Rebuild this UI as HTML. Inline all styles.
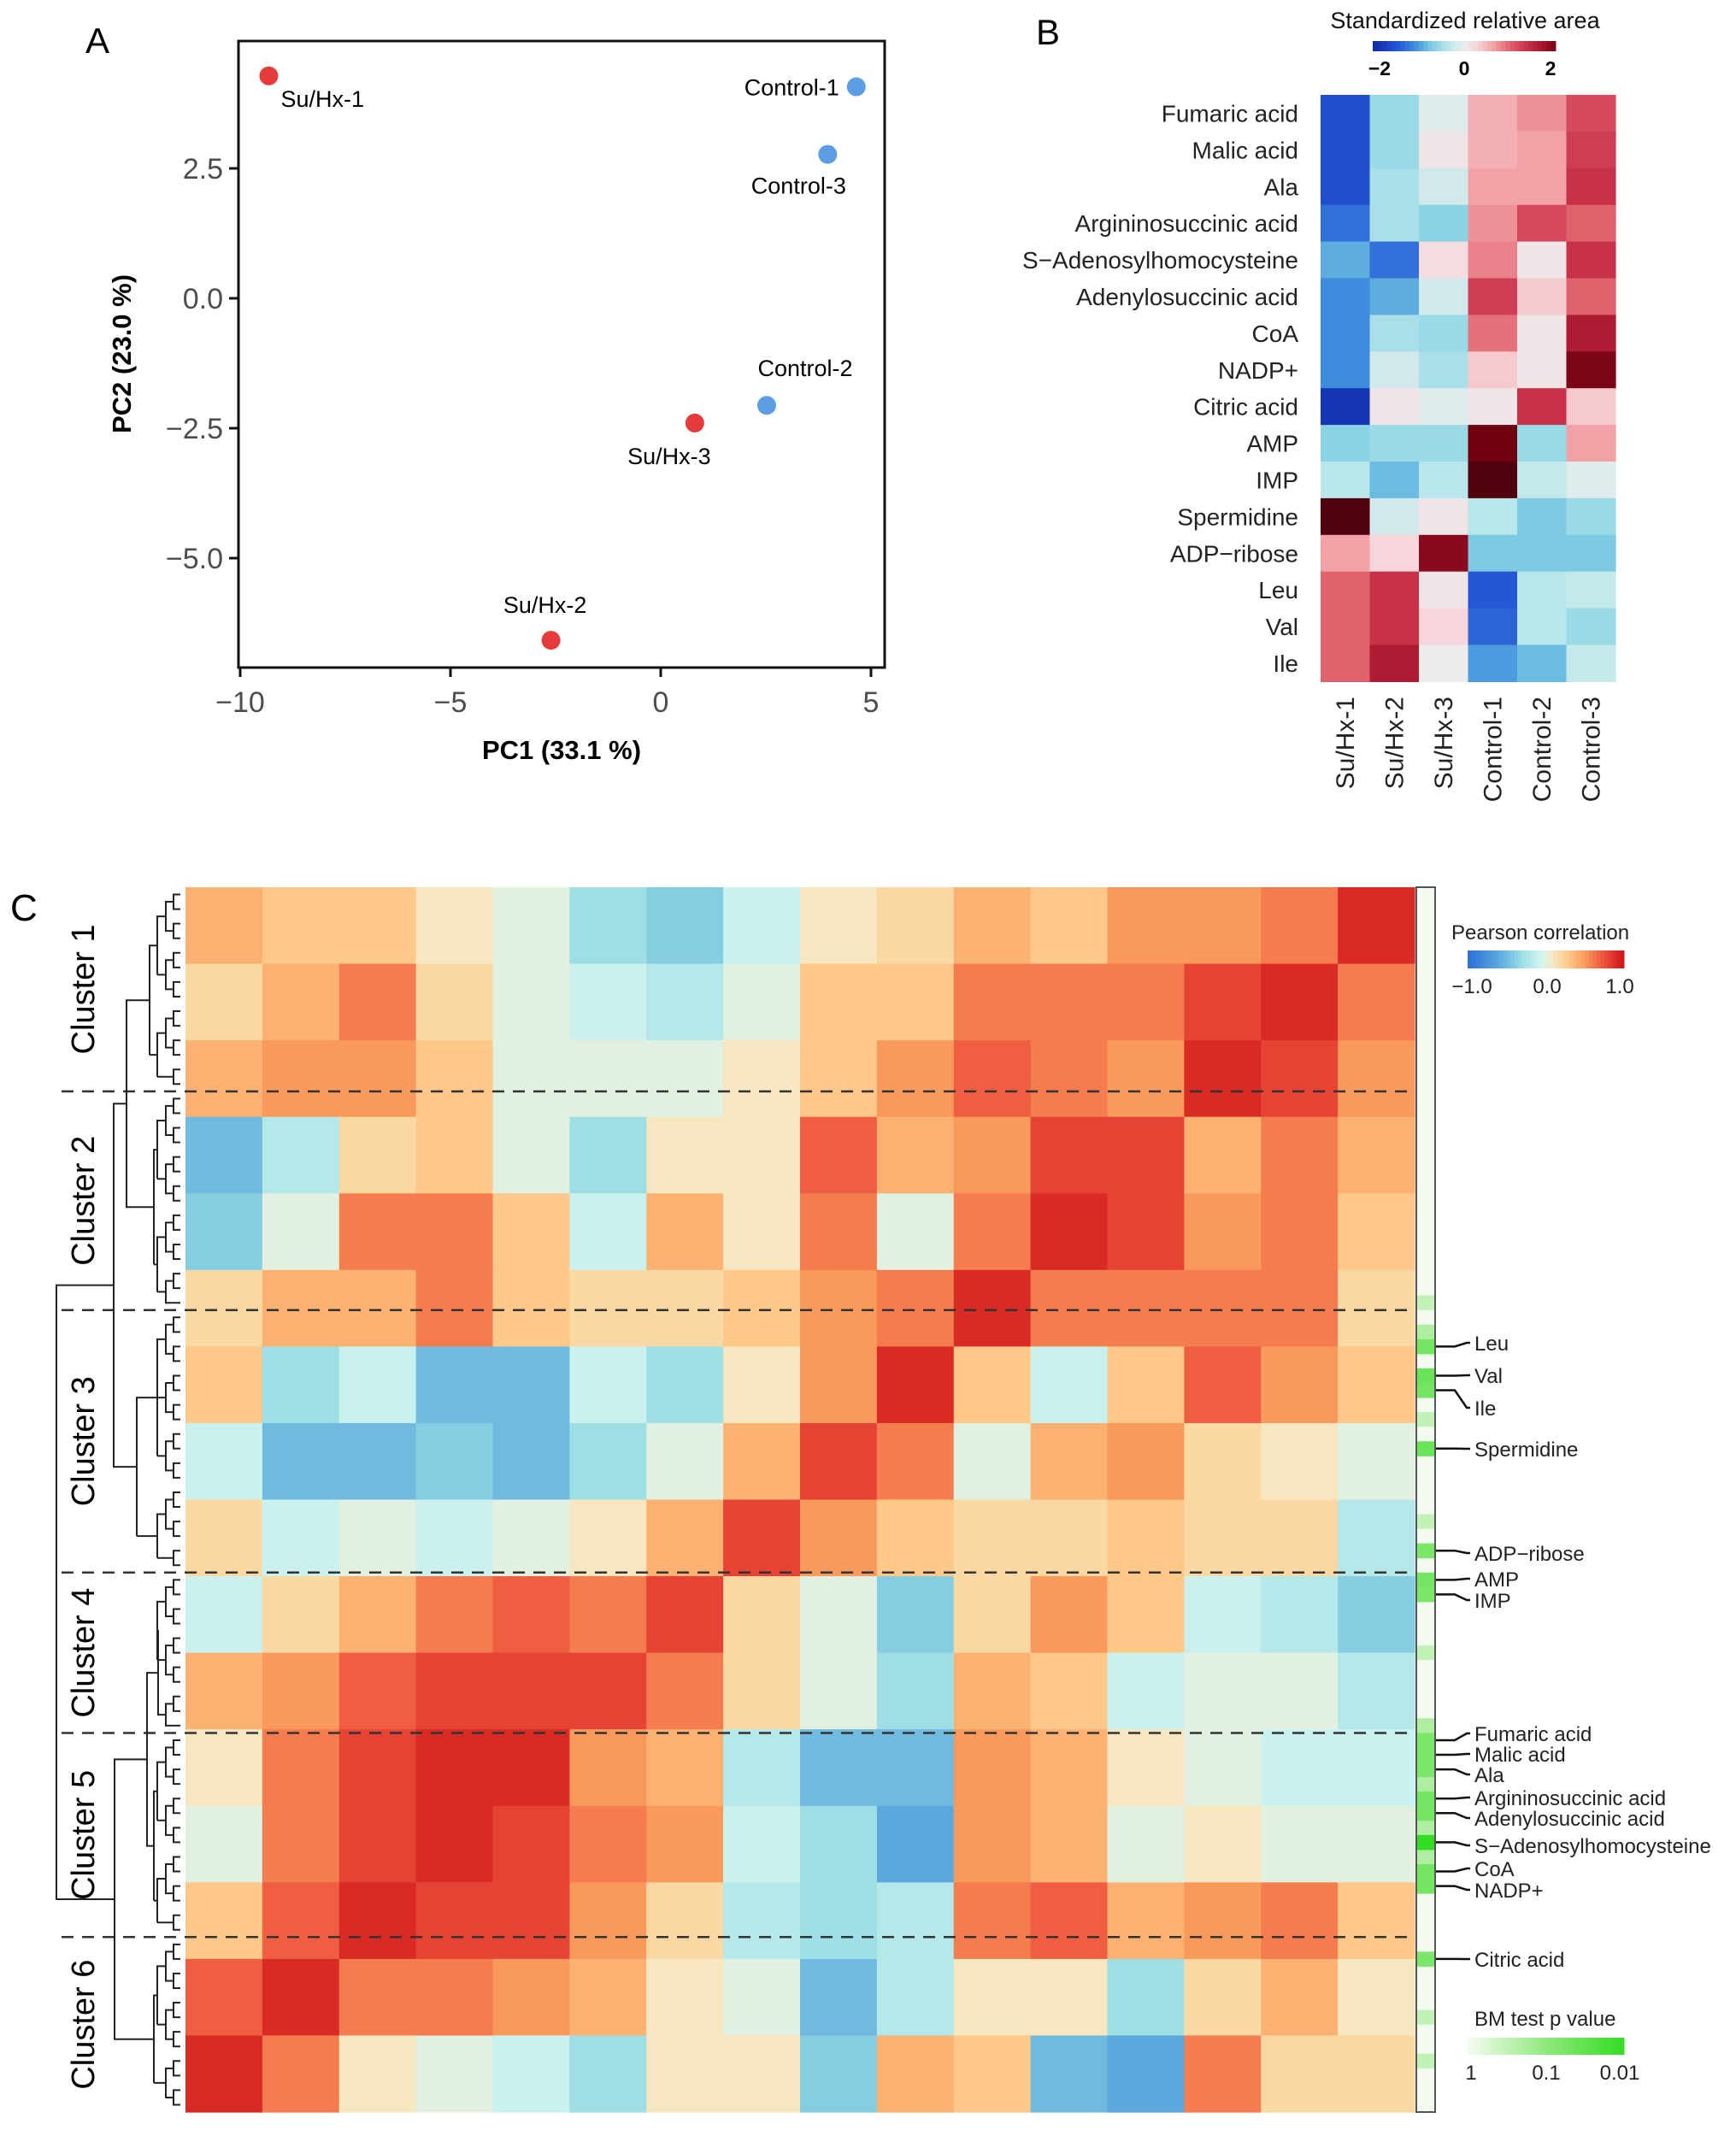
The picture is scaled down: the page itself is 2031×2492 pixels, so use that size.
<!DOCTYPE html>
<html><head><meta charset="utf-8">
<style>
html,body{margin:0;padding:0;background:#fff;}
svg{display:block;font-family:"Liberation Sans",Arial,sans-serif;}
</style></head>
<body>
<svg id="fig" width="2031" height="2492" viewBox="0 0 2031 2492" xmlns="http://www.w3.org/2000/svg">
<rect width="2031" height="2492" fill="#fff"/>
<text x="100" y="62" font-size="42">A</text>
<text x="1212" y="52" font-size="42">B</text>
<text x="12" y="1077" font-size="44">C</text>
<g id="pa"></g>
<g id="pb"></g>
<g id="pc"></g>
</svg>
<script>
// ---------- Panel A data ----------
const pcaNames = ["Su/Hx-1","Su/Hx-2","Su/Hx-3","Control-1","Control-2","Control-3"];
const pcaPC1 = [-9.32,-2.61,0.81,4.65,2.52,3.97];
const pcaPC2 = [4.28,-6.58,-2.40,4.07,-2.06,2.77];
const pcaGroup = ["SuHx","SuHx","SuHx","Control","Control","Control"];
const xTicksA = [-10,-5,0,5];
const yTicksA = [2.5,0.0,-2.5,-5.0];
const xTickLabelsA = ["\u221210","\u22125","0","5"];
const yTickLabelsA = ["2.5","0.0","\u22122.5","\u22125.0"];

// ---------- Panel B data ----------
const metabolites = ["Fumaric acid","Malic acid","Ala","Argininosuccinic acid","S\u2212Adenosylhomocysteine","Adenylosuccinic acid","CoA","NADP+","Citric acid","AMP","IMP","Spermidine","ADP\u2212ribose","Leu","Val","Ile"];
const samples = ["Su/Hx-1","Su/Hx-2","Su/Hx-3","Control-1","Control-2","Control-3"];
const zFumaric=[-1.7,-0.6,-0.1,0.6,0.8,1.3];
const zMalic=[-1.7,-0.6,0.1,0.6,0.7,1.4];
const zAla=[-1.7,-0.5,-0.2,0.7,0.7,1.5];
const zArg=[-1.4,-0.5,-0.7,0.8,1.3,1.1];
const zSAH=[-1.0,-1.4,0.2,0.9,0.1,1.5];
const zAdeno=[-1.2,-1.0,-0.2,1.4,0.4,1.1];
const zCoA=[-1.2,-0.5,-0.6,1.0,0.1,1.8];
const zNADP=[-1.2,-0.2,-0.5,0.4,0.1,2.2];
const zCitric=[-2.0,0.1,-0.1,0.1,1.5,0.4];
const zAMP=[-0.7,-0.6,-0.6,2.3,-0.6,0.7];
const zIMP=[-0.4,-0.9,-0.4,2.5,-0.3,-0.1];
const zSperm=[2.5,-0.2,0.1,-0.4,-0.8,-0.6];
const zADPR=[0.7,0.3,2.1,-0.8,-0.8,-0.8];
const zLeu=[1.1,1.5,0.1,-1.6,-0.4,-0.3];
const zVal=[1.1,1.5,0.3,-1.5,-0.4,-0.6];
const zIle=[1.1,1.8,0.0,-1.1,-0.9,-0.3];
const zRows=[zFumaric,zMalic,zAla,zArg,zSAH,zAdeno,zCoA,zNADP,zCitric,zAMP,zIMP,zSperm,zADPR,zLeu,zVal,zIle];

// ---------- Panel C data (block-averaged correlations, 16x16) ----------
const corrR0=[0.4,0.3,0.3,0.1,0.0,-0.3,-0.4,-0.1,0.1,0.2,0.4,0.3,0.5,0.5,0.6,0.9];
const corrR1=[0.2,0.4,0.6,0.2,0.0,-0.1,-0.2,0.0,0.3,0.3,0.6,0.6,0.6,0.8,0.9,0.6];
const corrR2=[0.4,0.5,0.5,0.3,0.0,0.0,0.0,0.1,0.3,0.5,0.7,0.6,0.5,0.9,0.8,0.5];
const corrR3=[-0.5,-0.2,0.2,0.3,0.0,-0.3,0.1,0.1,0.7,0.4,0.5,0.8,0.8,0.4,0.6,0.4];
const corrR4=[-0.4,0.0,0.6,0.6,0.3,-0.1,0.4,0.1,0.6,0.0,0.6,0.9,0.8,0.5,0.6,0.3];
const corrR5=[0.2,0.4,0.4,0.6,0.3,0.2,0.2,0.3,0.5,0.6,0.9,0.6,0.6,0.6,0.6,0.2];
const corrR6=[0.3,-0.3,-0.1,-0.5,-0.5,-0.1,-0.3,0.1,0.5,0.9,0.3,-0.1,0.3,0.7,0.5,0.3];
const corrR7=[-0.1,-0.5,-0.5,-0.4,-0.5,-0.3,0.0,0.4,0.8,0.6,0.0,0.4,0.5,0.2,0.1,0.0];
const corrR8=[0.2,-0.1,0.0,-0.1,0.0,0.1,0.4,0.8,0.5,0.3,0.2,0.2,0.3,0.2,0.2,-0.2];
const corrR9=[-0.1,0.2,0.4,0.6,0.7,0.6,0.8,0.2,0.0,-0.4,0.2,0.5,0.3,-0.1,-0.2,-0.4];
const corrR10=[0.4,0.5,0.7,0.8,0.8,0.8,0.6,0.2,0.0,-0.3,0.4,0.3,-0.1,0.0,0.0,-0.2];
const corrR11=[0.1,0.6,0.8,0.9,0.9,0.5,0.4,-0.2,-0.5,-0.5,0.5,0.4,0.1,0.0,-0.1,-0.1];
const corrR12=[0.0,0.6,0.8,0.9,0.8,0.6,0.5,-0.1,-0.3,-0.6,0.5,0.4,0.0,0.1,0.0,0.0];
const corrR13=[0.3,0.7,0.9,0.8,0.8,0.5,0.2,-0.2,-0.3,-0.2,0.6,0.7,0.4,0.5,0.6,0.3];
const corrR14=[0.7,0.9,0.6,0.6,0.5,0.4,0.1,0.0,-0.5,-0.2,0.1,0.1,-0.3,0.2,0.4,0.1];
const corrR15=[0.9,0.6,0.1,0.0,-0.1,-0.3,0.1,0.1,-0.4,0.4,0.3,-0.5,-0.6,0.6,0.2,0.2];
const corrRows=[corrR0,corrR1,corrR2,corrR3,corrR4,corrR5,corrR6,corrR7,corrR8,corrR9,corrR10,corrR11,corrR12,corrR13,corrR14,corrR15];
const clusterNames=["Cluster 1","Cluster 2","Cluster 3","Cluster 4","Cluster 5","Cluster 6"];
const clusterSizes=[14,15,18,11,14,12];
const markerLabels=["Leu","Val","Ile","Spermidine","ADP\u2212ribose","AMP","IMP","Fumaric acid","Malic acid","Ala","Argininosuccinic acid","Adenylosuccinic acid","S\u2212Adenosylhomocysteine","CoA","NADP+","Citric acid"];
const markerRows=[31,33,34,38,45,47,48,58,59,60,62,63,65,67,68,73];
const markerP=[0.05,0.04,0.05,0.04,0.06,0.05,0.06,0.06,0.06,0.06,0.05,0.05,0.01,0.05,0.05,0.06];
const extraRows=[28,30,36,43,52,57,61,64,66,77,80];
const extraP=[0.3,0.2,0.3,0.3,0.3,0.2,0.2,0.2,0.2,0.3,0.3];

const NS="http://www.w3.org/2000/svg";
function mk(parent,tag,attrs,text){const e=document.createElementNS(NS,tag);for(const k in attrs)e.setAttribute(k,attrs[k]);if(text!==undefined)e.textContent=text;parent.appendChild(e);return e;}
function lerpColor(stops,v){
  if(v<=stops[0][0])return stops[0][1];
  for(let i=1;i<stops.length;i++){if(v<=stops[i][0]){const a=stops[i-1],b=stops[i];const t=(v-a[0])/(b[0]-a[0]);
    const ca=a[1].match(/\w\w/g).map(h=>parseInt(h,16)),cb=b[1].match(/\w\w/g).map(h=>parseInt(h,16));
    return "#"+ca.map((c,j)=>Math.round(c+(cb[j]-c)*t).toString(16).padStart(2,"0")).join("");}}
  return stops[stops.length-1][1];}
const bStops=[[-2.5,"#001a80"],[-2,"#1535b5"],[-1.6,"#2457d5"],[-1.2,"#3d8bdc"],[-0.8,"#7ccbe2"],[-0.4,"#b8e6ea"],[0,"#ececec"],[0.3,"#f6d6da"],[0.7,"#f2a2a6"],[1.1,"#e0626d"],[1.5,"#c73249"],[1.9,"#a5132a"],[2.3,"#6e0010"],[2.6,"#420010"]];
const cStops=[[-1,"#2c6fd6"],[-0.6,"#5aa8de"],[-0.3,"#9ddfe4"],[-0.05,"#d6f5f0"],[0.1,"#f7e7c0"],[0.3,"#fdc888"],[0.5,"#f99a5c"],[0.7,"#ef5e40"],[0.85,"#e0352e"],[1,"#cc1515"]];

// ---------- Panel A ----------
(function(){
  const g=document.getElementById("pa");
  const L=279,R=1035,T=48,B=781;
  const sx=v=>773+v*49.2, sy=v=>349-v*60.8;
  const frame=mk(g,"rect",{x:L,y:T,width:R-L,height:B-T,fill:"none",stroke:"#111","stroke-width":3});
  
  
  xTicksA.forEach((t,i)=>{
    const tk=mk(g,"line",{x1:sx(t),x2:sx(t),y1:B,y2:B+11,stroke:"#111","stroke-width":3});
    
    
    const lb=mk(g,"text",{x:sx(t),y:B+52,"font-size":34,"text-anchor":"middle",fill:"#4d4d4d"},xTickLabelsA[i]);
    
    
  });
  yTicksA.forEach((t,i)=>{
    const tk=mk(g,"line",{x1:L-11,x2:L,y1:sy(t),y2:sy(t),stroke:"#111","stroke-width":3});
    
    
    const lb=mk(g,"text",{x:L-18,y:sy(t)+12,"font-size":34,"text-anchor":"end",fill:"#4d4d4d"},yTickLabelsA[i]);
    
    
  });
  const xt=mk(g,"text",{x:657,y:888,"font-size":31,"font-weight":"bold","text-anchor":"middle"},"PC1 (33.1 %)");
  
  
  const yt=mk(g,"text",{x:0,y:0,"font-size":31,"font-weight":"bold","text-anchor":"middle",transform:"translate(153,414) rotate(-90)"},"PC2 (23.0 %)");
  
  
  const off={"Su/Hx-1":[14,36,"start"],"Control-1":[-20,10,"end"],"Control-3":[-34,46,"middle"],"Control-2":[45,-34,"middle"],"Su/Hx-3":[-30,48,"middle"],"Su/Hx-2":[-7,-32,"middle"]};
  pcaNames.forEach((n,i)=>{
    const c=mk(g,"circle",{cx:sx(pcaPC1[i]),cy:sy(pcaPC2[i]),r:11,fill:pcaGroup[i]==="SuHx"?"#e63b3b":"#5c9de3"});
    
    
    const o=off[n];
    const t=mk(g,"text",{x:sx(pcaPC1[i])+o[0],y:sy(pcaPC2[i])+o[1],"font-size":27,"text-anchor":o[2]},n);
    
    
  });
})();

// ---------- Panel B ----------
(function(){
  const g=document.getElementById("pb");
  const L=1545,T=111,cw=57.5,rh=42.9;
  zRows.forEach((row,r)=>{
    row.forEach((v,c)=>{
      const e=mk(g,"rect",{x:L+c*cw,y:T+r*rh,width:cw+0.6,height:rh+0.6,fill:lerpColor(bStops,v)});
      
      
    });
    const t=mk(g,"text",{x:1519,y:T+r*rh+rh/2+10,"font-size":28,"text-anchor":"end",fill:"#222"},metabolites[r]);
    
    
  });
  samples.forEach((s,c)=>{
    const x=L+c*cw+cw/2+10;
    const t=mk(g,"text",{x:0,y:0,"font-size":30,"text-anchor":"end",fill:"#222",transform:`translate(${x},815) rotate(-90)`},s);
    
    
  });
  const tt=mk(g,"text",{x:1714,y:33,"font-size":27,"text-anchor":"middle",fill:"#111"},"Standardized relative area");
  
  
  const n=40;
  for(let i=0;i<n;i++){const v=-2.2+4.4*(i+0.5)/n;
    const e=mk(g,"rect",{x:1606+i*214/n,y:48,width:214/n+0.5,height:12,fill:lerpColor(bStops,v)});
    
    }
  [["\u22122",1614],["0",1713],["2",1814]].forEach(a=>{
    const t=mk(g,"text",{x:a[1],y:88,"font-size":23,"font-weight":"bold","text-anchor":"middle"},a[0]);
    
    });
})();

// ---------- Panel C ----------
(function(){
  const g=document.getElementById("pc");
  const L=217,T=1038,W=1438,H=1433;
  const N=corrRows.length, bw=W/N, bh=H/N;
  corrRows.forEach((row,r)=>row.forEach((v,c)=>{
    const e=mk(g,"rect",{x:L+c*bw,y:T+r*bh,width:bw+0.6,height:bh+0.6,fill:lerpColor(cStops,v)});
    
    
  }));
  const total=clusterSizes.reduce((a,b)=>a+b,0), rh=H/total;
  let start=0; const nodes=[];
  clusterSizes.forEach((sz,k)=>{
    const y0=T+start*rh, y1=T+(start+sz)*rh;
    if(k>0){const d=mk(g,"line",{x1:72,x2:1657,y1:y0,y2:y0,stroke:"#333","stroke-width":2.5,"stroke-dasharray":"14,10"});
      
      }
    const t=mk(g,"text",{x:0,y:0,"font-size":38,"text-anchor":"middle",transform:`translate(${110},${(y0+y1)/2}) rotate(-90)`},clusterNames[k]);
    
    
    const mids=[];
    for(let i=0;i<sz;i+=2){
      const a=T+(start+i+0.5)*rh, b=T+(start+Math.min(i+1,sz-1)+0.5)*rh;
      const p=mk(g,"path",{d:`M211,${a}H203V${b}H211`,fill:"none",stroke:"#222","stroke-width":2});
      
      
      mids.push((a+b)/2);
    }
    const quads=[];
    for(let i=0;i<mids.length;i+=2){const a=mids[i],b=mids[Math.min(i+1,mids.length-1)];
      const p=mk(g,"path",{d:`M203,${a}H194V${b}H203`,fill:"none",stroke:"#222","stroke-width":2});
      
      
      quads.push((a+b)/2);}
    const half=Math.ceil(quads.length/2);
    const lo=quads.slice(0,half), hi=quads.slice(half);
    const sub=[];
    [lo,hi].forEach(arr=>{if(!arr.length)return;const a=arr[0],b=arr[arr.length-1];
      let d=`M${194},${a}H184V${b}`;arr.forEach(y=>d+=`M194,${y}H184`);
      const p=mk(g,"path",{d,fill:"none",stroke:"#222","stroke-width":2});
      
      
      sub.push((a+b)/2);});
    const cx=[175,180,160,185,180,180][k];
    const a=sub[0],b=sub[sub.length-1];
    const p=mk(g,"path",{d:`M184,${a}H${cx}V${b}M184,${b}H${cx}`,fill:"none",stroke:"#222","stroke-width":2});
    
    
    nodes.push([cx,(a+b)/2]);
    start+=sz;
  });
  function join(n1,n2,x){const p=mk(g,"path",{d:`M${n1[0]},${n1[1]}H${x}V${n2[1]}H${n2[0]}`,fill:"none",stroke:"#222","stroke-width":2});
    
    
    return [x,(n1[1]+n2[1])/2];}
  const n12=join(nodes[0],nodes[1],148);
  const n123=join(n12,nodes[2],133);
  const n45=join(nodes[3],nodes[4],172);
  const n456=join(n45,nodes[5],134);
  join(n123,n456,66);
  const bx=1657,bwid=22;
  const sb=mk(g,"rect",{x:bx,y:T,width:bwid,height:H,fill:"#f3fbf1",stroke:"#555","stroke-width":2});
  
  
  const pc=p=>lerpColor([[-2,"#33dd22"],[-1,"#8fe87d"],[0,"#f6fcf4"]],Math.log10(p));
  extraRows.forEach((r,i)=>{const e=mk(g,"rect",{x:bx+1,y:T+r*rh,width:bwid-2,height:rh,fill:pc(extraP[i])});
    
    });
  markerRows.forEach((r,i)=>{const e=mk(g,"rect",{x:bx+1,y:T+r*rh,width:bwid-2,height:rh+0.5,fill:pc(markerP[i])});
    
    });
  const labY=[1571,1609,1647,1695,1817,1847,1872,2028,2052,2076,2103,2127,2159,2186,2211,2292];
  markerLabels.forEach((m,i)=>{
    const yr=T+(markerRows[i]+0.5)*rh, yl=labY[i];
    const p=mk(g,"path",{d:`M1680,${yr}H1702L1716,${yl}H1720`,fill:"none",stroke:"#111","stroke-width":2.5});
    
    
    const t=mk(g,"text",{x:1725,y:yl+9,"font-size":24,fill:"#222"},m);
    
    
  });
  const pt=mk(g,"text",{x:1698,y:1099,"font-size":24,fill:"#222"},"Pearson correlation");
  
  
  for(let i=0;i<40;i++){const v=-1+2*(i+0.5)/40;
    const e=mk(g,"rect",{x:1717+i*183/40,y:1112,width:183/40+0.5,height:21,fill:lerpColor(cStops,v)});
    
    }
  [["\u22121.0",1722],["0.0",1810],["1.0",1895]].forEach(a=>{const t=mk(g,"text",{x:a[1],y:1162,"font-size":24,"text-anchor":"middle",fill:"#222"},a[0]);
    
    });
  const bt=mk(g,"text",{x:1725,y:2370,"font-size":24,fill:"#222"},"BM test p value");
  
  
  for(let i=0;i<40;i++){const lp=-2*(i+0.5)/40;
    const e=mk(g,"rect",{x:1717+i*183/40,y:2384,width:183/40+0.5,height:20,fill:lerpColor([[-2,"#33dd22"],[-1,"#8fe87d"],[0,"#f6fcf4"]],lp)});
    
    }
  [["1",1721],["0.1",1809],["0.01",1895]].forEach(a=>{const t=mk(g,"text",{x:a[1],y:2433,"font-size":24,"text-anchor":"middle",fill:"#222"},a[0]);
    
    });
})();
</script>
</body></html>
